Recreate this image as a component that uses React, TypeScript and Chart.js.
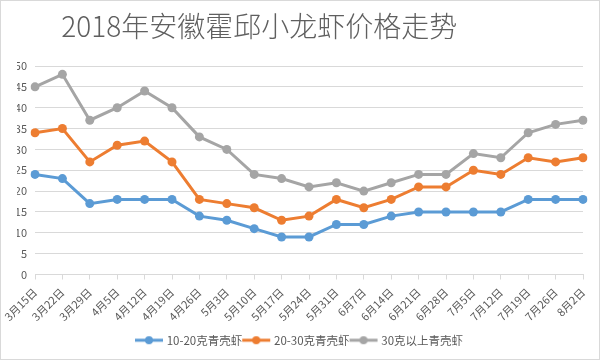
import React, { useEffect, useRef } from "react";
import { Chart, registerables } from "chart.js";

Chart.register(...registerables);

const titleText = "2018年安徽霍邱小龙虾价格走势";
const categories = ["3月15日","3月22日","3月29日","4月5日","4月12日","4月19日","4月26日","5月3日","5月10日","5月17日","5月24日","5月31日","6月7日","6月14日","6月21日","6月28日","7月5日","7月12日","7月19日","7月26日","8月2日"];
const seriesNames = ["10-20克青壳虾", "20-30克青壳虾", "30克以上青壳虾"];
const small = [24,23,17,18,18,18,14,13,11,9,9,12,12,14,15,15,15,15,18,18,18];
const medium = [34,35,27,31,32,27,18,17,16,13,14,18,16,18,21,21,25,24,28,27,28];
const large = [45,48,37,40,44,40,33,30,24,23,21,22,20,22,24,24,29,28,34,36,37];
const colors = ["#5b9bd5", "#ed7d31", "#a5a5a5"];

const FONT = '"Noto Sans CJK SC", "Noto Sans", sans-serif';
const TEXT = "#595959";
const GRID = "#d9d9d9";

function legendIcon(color: string) {
  const c = document.createElement("canvas");
  c.width = 30;
  c.height = 10;
  const ctx = c.getContext("2d")!;
  ctx.strokeStyle = color;
  ctx.lineWidth = 3;
  ctx.beginPath();
  ctx.moveTo(1, 5);
  ctx.lineTo(29, 5);
  ctx.stroke();
  ctx.fillStyle = color;
  ctx.beginPath();
  ctx.arc(15, 5, 4, 0, Math.PI * 2);
  ctx.fill();
  return c;
}

const frameAndTitle = {
  id: "frameAndTitle",
  beforeDraw(chart: any) {
    const { ctx, width, height } = chart;
    ctx.save();
    ctx.fillStyle = "#ffffff";
    ctx.fillRect(0, 0, width, height);
    ctx.restore();
  },
  afterDraw(chart: any) {
    const { ctx, width, height } = chart;
    ctx.save();
    ctx.strokeStyle = GRID;
    ctx.lineWidth = 1;
    ctx.strokeRect(0.5, 0.5, width - 1, height - 1);
    ctx.fillStyle = "#5f5f5f";
    ctx.font = `300 28px ${FONT}`;
    ctx.textAlign = "center";
    ctx.textBaseline = "middle";
    ctx.fillText(titleText, width * 0.432, 26);
    ctx.restore();
  },
};

export default function App() {
  const ref = useRef<HTMLCanvasElement | null>(null);
  useEffect(() => {
    document.body.style.margin = "0";
    const values = [small, medium, large];
    const icons = colors.map(legendIcon);
    const chart = new Chart(ref.current!, {
      type: "line",
      data: {
        labels: categories,
        datasets: seriesNames.map((name, i) => ({
          label: name,
          data: values[i],
          borderColor: colors[i],
          backgroundColor: colors[i],
          borderWidth: 3,
          pointRadius: 4.5,
          pointHoverRadius: 4.5,
          pointBorderWidth: 0,
          tension: 0,
        })),
      },
      options: {
        responsive: false,
        animation: false,
        layout: { padding: { top: 66, right: 17, left: 17, bottom: 4 } },
        plugins: {
          title: { display: false },
          tooltip: { enabled: false },
          legend: {
            position: "bottom",
            labels: {
              usePointStyle: true,
              pointStyleWidth: 24,
              padding: 2,
              color: TEXT,
              font: { family: FONT, size: 11.5 },
              generateLabels: (c: any) =>
                Chart.defaults.plugins.legend.labels.generateLabels(c).map((l: any, i: number) => ({
                  ...l,
                  pointStyle: icons[i],
                })),
            },
          },
        },
        scales: {
          x: {
            offset: false,
            grid: { drawOnChartArea: false, drawTicks: true, tickLength: 5, color: GRID },
            border: { display: true, color: GRID },
            ticks: {
              minRotation: 45,
              maxRotation: 45,
              autoSkip: false,
              color: TEXT,
              font: { family: FONT, size: 11 },
              padding: 6,
            },
            afterFit: (s: any) => { s.height = 58; },
          },
          y: {
            min: 0,
            max: 50,
            grid: { color: GRID, drawTicks: false },
            border: { display: false },
            ticks: {
              stepSize: 5,
              color: TEXT,
              font: { family: FONT, size: 11 },
              padding: 8,
            },
            afterFit: (s: any) => { s.width = 18; },
          },
        },
      },
      plugins: [frameAndTitle],
    } as any);
    return () => chart.destroy();
  }, []);
  return (
    <div style={{ width: 600, height: 360 }}>
      <canvas ref={ref} width={600} height={360} style={{ display: "block" }} />
    </div>
  );
}
